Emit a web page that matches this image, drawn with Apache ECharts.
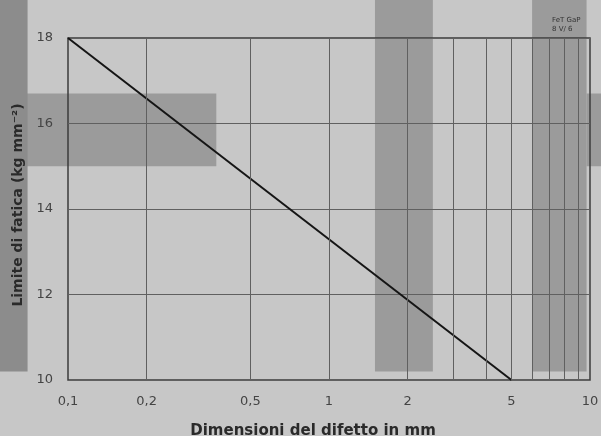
<!DOCTYPE html>
<html>
<head>
<meta charset="utf-8">
<script src="https://cdn.jsdelivr.net/npm/echarts@6/dist/echarts.min.js"></script>
<style>
  html, body { margin: 0; padding: 0; background: #c7c7c7; }
  #chart { width: 601px; height: 436px; }
</style>
</head>
<body>
<div id="chart"></div>
<script>
// line: fatigue limit vs defect size
const lineSize = [0.1, 5];
const lineLimit = [18, 10];

// tick labels / grid
const xTickValues = [0.1, 0.2, 0.5, 1, 2, 5, 10];
const xGridValues = [0.2, 0.5, 1, 2, 3, 4, 5, 6, 7, 8, 9];

// shaded bands (null = runs to the page edge)
const bandXFrom = [null, 9.7, 1.5, 6];
const bandXTo = [0.37, null, 2.5, 9.7];
const bandYFrom = [15.0, 15.0, 10.2, 10.2];
const bandYTo = [16.7, 16.7, null, null];

// dark strip on the left margin
const stripXFrom = [null];
const stripXTo = [0.07];
const stripYFrom = [10.2];
const stripYTo = [null];

const chart = echarts.init(document.getElementById('chart'));

function bandRenderer(xFrom, xTo, yFrom, yTo, color) {
  return function (params, api) {
    const i = params.dataIndex;
    const x0 = xFrom[i] === null ? 0 : api.coord([xFrom[i], 10])[0];
    const x1 = xTo[i] === null ? api.getWidth() : api.coord([xTo[i], 10])[0];
    const y0 = yFrom[i] === null ? api.getHeight() : api.coord([1, yFrom[i]])[1];
    const y1 = yTo[i] === null ? 0 : api.coord([1, yTo[i]])[1];
    return {
      type: 'rect',
      shape: { x: x0, y: Math.min(y0, y1), width: x1 - x0, height: Math.abs(y0 - y1) },
      style: { fill: color }
    };
  };
}

const font = 'DejaVu Sans';

chart.setOption({
  animation: false,
  backgroundColor: '#c7c7c7',
  title: {
    text: 'FeT GaP\n8 V/ 6',
    left: 547,
    top: 11,
    textStyle: { fontSize: 7, fontWeight: 'normal', color: '#333', fontFamily: font, lineHeight: 9 }
  },
  grid: {
    left: 68, right: 11, top: 38, bottom: 56,
    outerBoundsMode: 'none',
    containLabel: false,
    show: true,
    borderColor: '#3c3c3c',
    borderWidth: 1.5,
    backgroundColor: 'transparent'
  },
  xAxis: {
    type: 'log',
    logBase: 10,
    min: 0.1,
    max: 10,
    name: 'Dimensioni del difetto in mm',
    nameLocation: 'middle',
    nameGap: 44,
    nameTextStyle: {
      fontFamily: font, fontSize: 15, fontWeight: 'bold', color: '#2a2a2a',
      padding: [0, 32, 0, 0]
    },
    axisLine: { show: false },
    axisTick: { show: false },
    splitLine: { show: false },
    axisLabel: {
      customValues: xTickValues,
      margin: 15,
      fontFamily: font,
      fontSize: 13,
      color: '#444',
      formatter: v => String(v).replace('.', ',')
    }
  },
  yAxis: {
    type: 'value',
    min: 10,
    max: 18,
    interval: 2,
    name: 'Limite di fatica (kg mm⁻²)',
    nameLocation: 'middle',
    nameGap: 43,
    nameRotate: 90,
    nameTextStyle: { fontFamily: font, fontSize: 14, fontWeight: 'bold', color: '#2a2a2a', padding: [0, 0, 0, 8] },
    axisLine: { show: false },
    axisTick: { show: false },
    splitLine: { show: true, lineStyle: { color: '#606060', width: 1 } },
    axisLabel: { margin: 15, fontFamily: font, fontSize: 13, color: '#444' }
  },
  series: [
    {
      type: 'custom',
      z: -2,
      clip: false,
      silent: true,
      data: bandXFrom.map((_, i) => i),
      renderItem: bandRenderer(bandXFrom, bandXTo, bandYFrom, bandYTo, '#9b9b9b')
    },
    {
      type: 'custom',
      z: -1,
      clip: false,
      silent: true,
      data: stripXFrom.map((_, i) => i),
      renderItem: bandRenderer(stripXFrom, stripXTo, stripYFrom, stripYTo, '#8c8c8c')
    },
    {
      type: 'line',
      z: 3,
      data: lineSize.map((s, i) => [s, lineLimit[i]]),
      symbol: 'none',
      lineStyle: { color: '#151515', width: 2 },
      markLine: {
        silent: true,
        symbol: 'none',
        label: { show: false },
        lineStyle: { type: 'solid', color: '#606060', width: 1 },
        data: xGridValues.map(v => ({ xAxis: v }))
      }
    }
  ]
});
</script>
</body>
</html>
